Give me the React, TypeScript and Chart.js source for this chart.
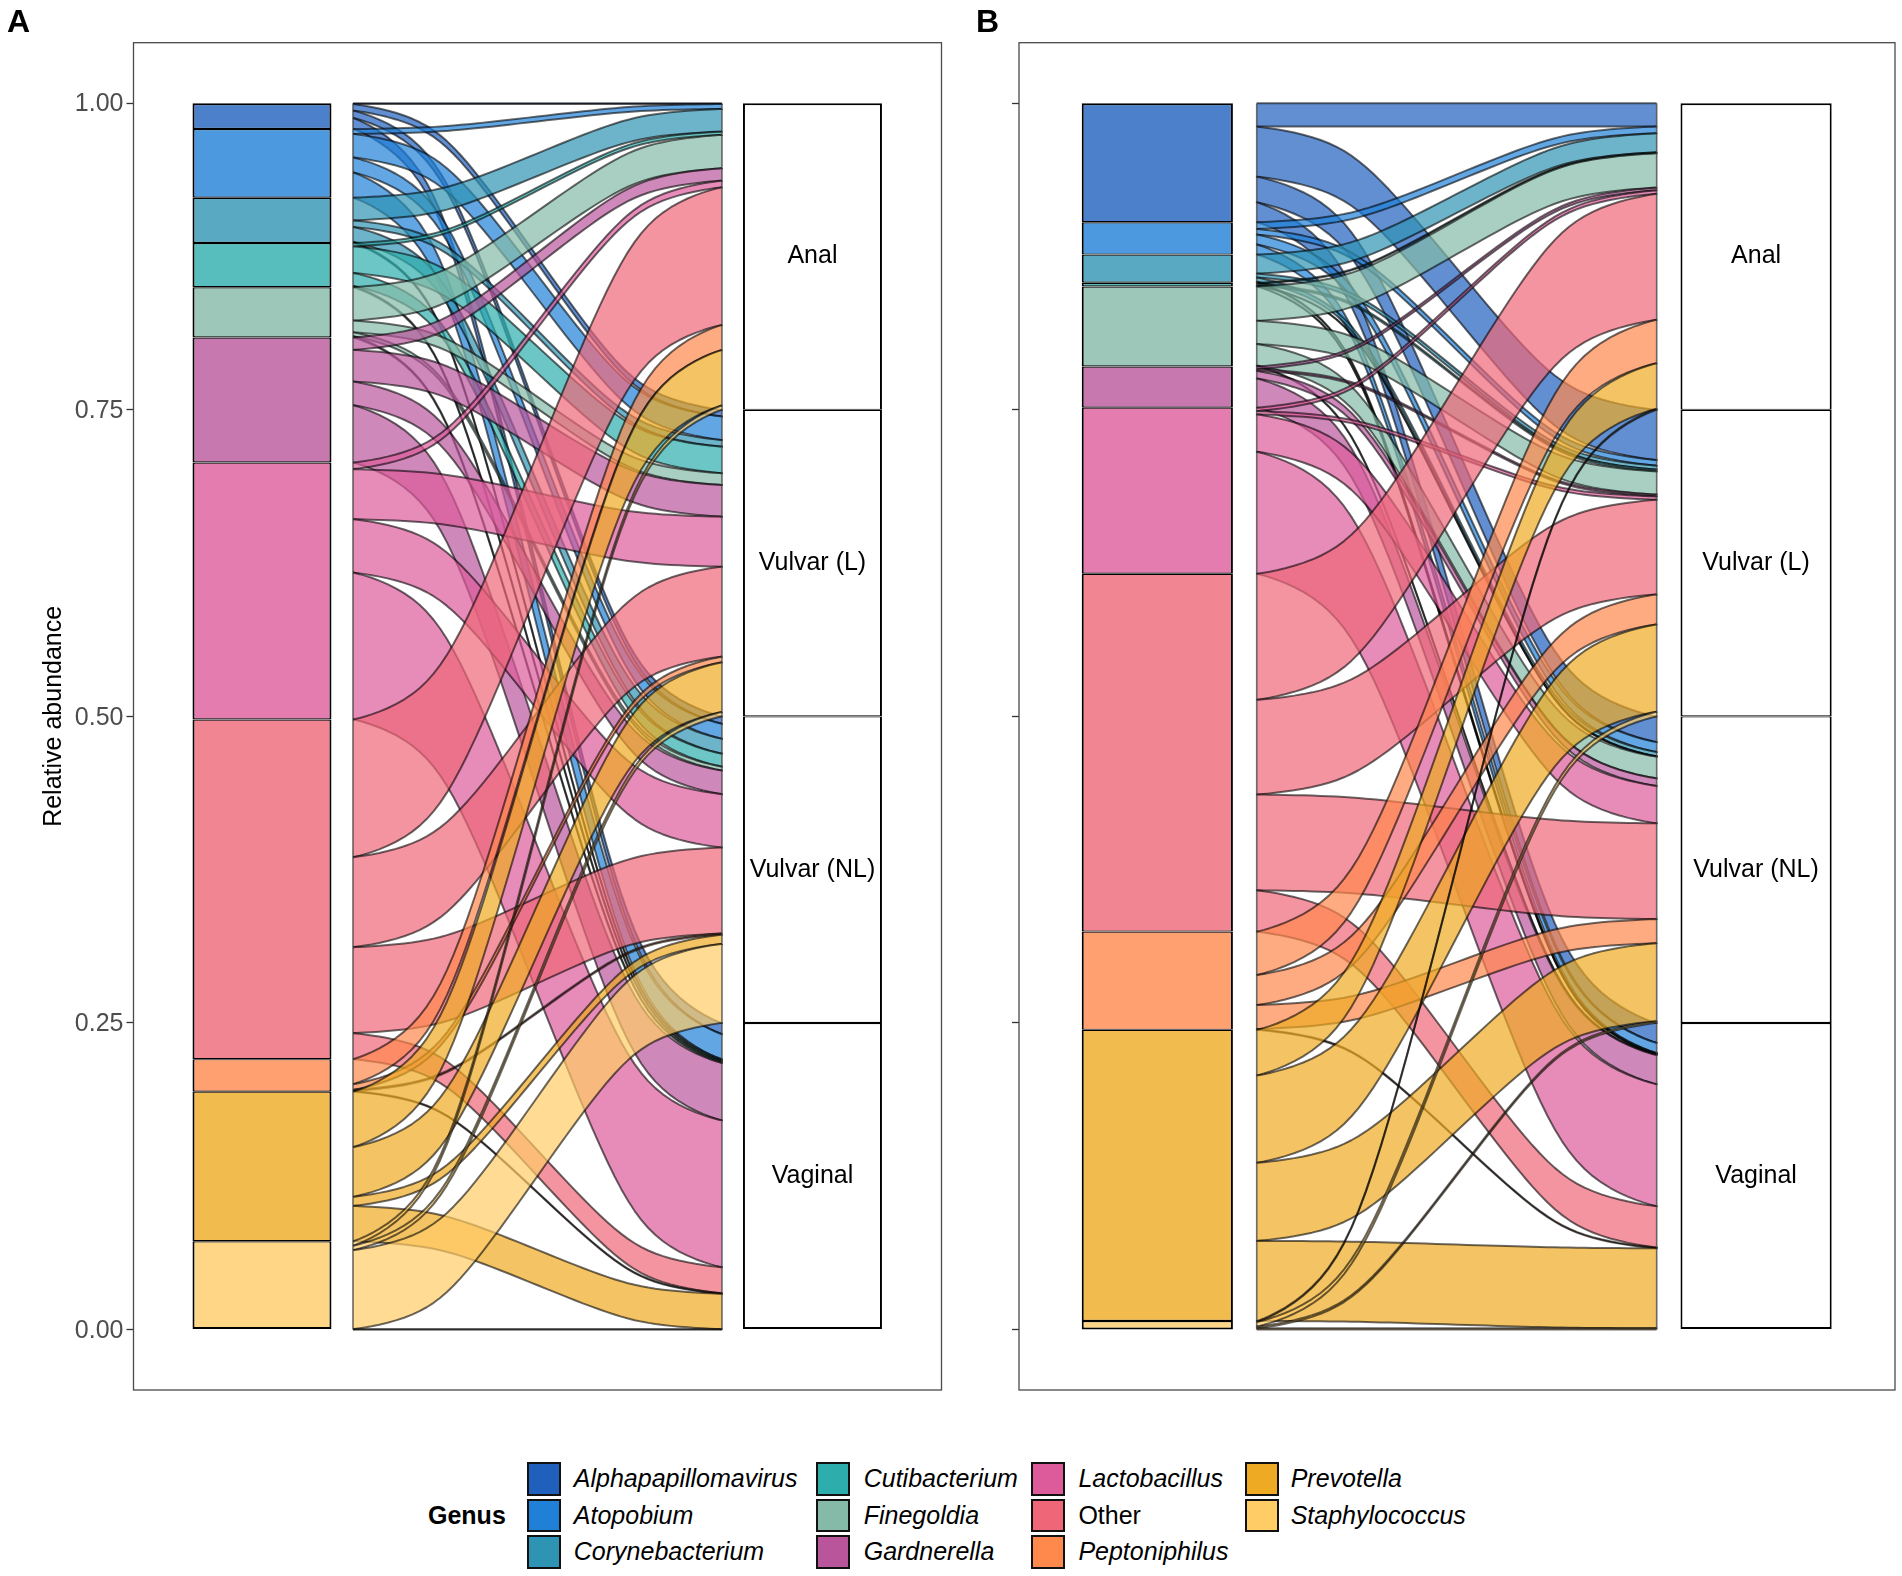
import React, { useEffect, useRef } from "react";
import { Chart, registerables } from "chart.js";

Chart.register(...registerables);

const FONT = "'Liberation Sans', Arial, sans-serif";

const genera = ["Alphapapillomavirus","Atopobium","Corynebacterium","Cutibacterium","Finegoldia","Gardnerella","Lactobacillus","Other","Peptoniphilus","Prevotella","Staphylococcus"];
const colors = ["#2060BD","#2080D8","#2F93B3","#2DAEAD","#85BAA8","#B9569B","#DD5B9B","#EE6677","#FF884D","#EEAA22","#FFCC66"];
const sites = ["Anal","Vulvar (L)","Vulvar (NL)","Vaginal"];
const yTicks = [0, 0.25, 0.5, 0.75, 1];

// Relative abundance per site: Anal, Vulvar (L), Vulvar (NL), Vaginal
const aAlpha = [0.0006,0.0054,0.006,0.009];
const aAtop = [0.004,0.0192,0.0122,0.0206];
const aCoryn = [0.0185,0.0054,0.0121,0.001];
const aCuti = [0.0027,0.0217,0.0106,0.001];
const aFine = [0.0272,0.0096,0.0032,0.001];
const aGard = [0.0101,0.0258,0.0193,0.0468];
const aLacto = [0.0054,0.0408,0.0435,0.1198];
const aOther = [0.1123,0.0734,0.0701,0.0212];
const aPept = [0.0204,0.0046,0.001,0.0005];
const aPrev = [0.0452,0.0405,0.0075,0.0288];
const aStaph = [0.0036,0.0036,0.0645,0.0003];

const bAlpha = [0.019,0.0409,0.0209,0.0162];
const bAtop = [0.0055,0.0046,0.0081,0.0082];
const bCoryn = [0.0155,0.0032,0.0035,0.0008];
const bCuti = [0.0008,0.0015,0.0003,0.0004];
const bFine = [0.028,0.0189,0.0177,0.0006];
const bGard = [0.0022,0.0015,0.0062,0.0237];
const bLacto = [0.0028,0.0027,0.0305,0.0995];
const bOther = [0.1028,0.0772,0.0781,0.0337];
const bPept = [0.0354,0.0245,0.0196,0.0006];
const bPrev = [0.0372,0.0712,0.0637,0.0653];
const bStaph = [0.0008,0.0038,0.0014,0.0009];

const panelA = [aAlpha,aAtop,aCoryn,aCuti,aFine,aGard,aLacto,aOther,aPept,aPrev,aStaph];
const panelB = [bAlpha,bAtop,bCoryn,bCuti,bFine,bGard,bLacto,bOther,bPept,bPrev,bStaph];

const KNOT = 0.25;
const BAR_SHARE = 0.2525;

function rgba(hex: string, a: number) {
  const n = parseInt(hex.slice(1), 16);
  return `rgba(${n >> 16},${(n >> 8) & 255},${n & 255},${a})`;
}

function fb(n: number, d: number) {
  const p = 2 * d * d, u = n / d, u2 = u * u;
  return u * u2 * (10 - p + (2 * p - 15) * u + (6 - p) * u2);
}

// X-spline through the four knots of an alluvium edge (shapes 0,1,1,0)
function edge(y0: number, y1: number, x0: number, x1: number) {
  const dx = x1 - x0;
  const P = [
    [x0, y0],
    [x0 + KNOT * dx, y0],
    [x1 - KNOT * dx, y1],
    [x1, y1],
  ];
  const segs: [number[], number[], number[], number[], number, number][] = [
    [P[0], P[0], P[1], P[2], 0, 1],
    [P[0], P[1], P[2], P[3], 1, 1],
    [P[1], P[2], P[3], P[3], 1, 0],
  ];
  const out: { x: number; y: number }[] = [];
  segs.forEach(([a, b, c, d, s1, s2], si) => {
    const steps = 18;
    for (let i = si === 0 ? 0 : 1; i <= steps; i++) {
      const t = i / steps;
      const A0 = t < s1 ? fb(t - s1, -1 - s1) : 0;
      const A2 = fb(t + s1, 1 + s1);
      const A1 = fb(t - 1 - s2, -1 - s2);
      const A3 = t > 1 - s2 ? fb(t - 1 + s2, 1 + s2) : 0;
      const w = A0 + A1 + A2 + A3;
      out.push({
        x: (A0 * a[0] + A1 * b[0] + A2 * c[0] + A3 * d[0]) / w,
        y: (A0 * a[1] + A1 * b[1] + A2 * c[1] + A3 * d[1]) / w,
      });
    }
  });
  return out;
}

function buildDatasets(table: number[][], x0: number, x1: number) {
  const ds: any[] = [];
  const right = sites.map((_, s) => 1 - 0.25 * s);
  let left = 1;
  let r = 0;
  table.forEach((row, g) => {
    const top = left;
    row.forEach((v, s) => {
      const c = colors[g];
      const base = {
        type: "line",
        pointRadius: 0,
        tension: 0,
        borderColor: "rgba(0,0,0,0.58)",
        borderWidth: 2,
        borderJoinStyle: "round",
      };
      ds.push({ ...base, data: edge(left, right[s], x0, x1), fill: "+1", backgroundColor: rgba(c, 0.7), order: 1000 - 2 * r });
      ds.push({ ...base, data: edge(left - v, right[s] - v, x0, x1), fill: false, order: 1000 - 2 * r - 1 });
      left -= v;
      right[s] -= v;
      r++;
    });
    ds.push({
      type: "bar",
      grouped: false,
      barPercentage: BAR_SHARE,
      categoryPercentage: 1,
      data: [{ x: 1, y: [left, top] }],
      backgroundColor: rgba(colors[g], 0.8),
      borderColor: "#000",
      borderSkipped: false,
      borderWidth: { left: 2, right: 2, top: g === 0 ? 2 : 1.2, bottom: g === table.length - 1 ? 2 : 1.2 },
      order: -2,
    });
  });
  sites.forEach((_, s) => {
    ds.push({
      type: "bar",
      grouped: false,
      barPercentage: BAR_SHARE,
      categoryPercentage: 1,
      data: [{ x: 2, y: [1 - 0.25 * (s + 1), 1 - 0.25 * s] }],
      backgroundColor: "#fff",
      borderColor: "#000",
      borderSkipped: false,
      borderWidth: { left: 2, right: 2, top: s === 0 ? 2 : 1.2, bottom: s === 3 ? 2 : 1.2 },
      order: -2,
    });
  });
  [x0, x1].forEach((x) => {
    ds.push({
      type: "line",
      pointRadius: 0,
      borderColor: "rgba(60,60,60,0.75)",
      borderWidth: 1.6,
      fill: false,
      data: [{ x, y: 0 }, { x, y: 1 }],
      order: -1,
    });
  });
  return ds;
}

const panelPlugin = {
  id: "panel",
  afterDraw(chart: any) {
    const { ctx, chartArea: a, scales } = chart;
    ctx.save();
    ctx.strokeStyle = "#4a4a4a";
    ctx.lineWidth = 1.3;
    ctx.strokeRect(a.left, a.top, a.right - a.left, a.bottom - a.top);
    ctx.fillStyle = "#000";
    ctx.font = `25px ${FONT}`;
    ctx.textAlign = "center";
    ctx.textBaseline = "middle";
    sites.forEach((s, i) => {
      ctx.fillText(s, scales.x.getPixelForValue(2), scales.y.getPixelForValue(1 - 0.25 * i - 0.125));
    });
    ctx.restore();
  },
};

function Panel({ table, left, width, axisW, padRight, labels, xMin, xMax, x0, x1 }: any) {
  const ref = useRef<HTMLCanvasElement>(null);
  useEffect(() => {
    const chart = new Chart(ref.current as any, {
      type: "line",
      data: { datasets: buildDatasets(table, x0, x1) },
      options: {
        animation: false,
        responsive: false,
        devicePixelRatio: 1,
        layout: { padding: { left: 0, right: padRight, top: 42.7, bottom: 50 } },
        plugins: { legend: { display: false }, tooltip: { enabled: false }, title: { display: false } },
        scales: {
          x: {
            type: "linear",
            min: xMin,
            max: xMax,
            offset: false,
            display: false,
            afterBuildTicks: (s: any) => { s.ticks = [{ value: 1 }, { value: 2 }]; },
          },
          y: {
            type: "linear",
            min: -0.0493,
            max: 1.0494,
            afterBuildTicks: (s: any) => { s.ticks = yTicks.map((value) => ({ value })); },
            afterFit: (s: any) => { s.width = axisW; },
            border: { display: false },
            grid: { drawOnChartArea: false, drawTicks: true, tickLength: 7, tickColor: "#333", tickWidth: 1.3 },
            ticks: {
              padding: 3,
              labelOffset: 1.2,
              autoSkip: false,
              color: "#4d4d4d",
              font: { family: FONT, size: 25 },
              callback: (v: any) => (labels ? Number(v).toFixed(2) : ""),
            },
            title: labels
              ? { display: true, text: "Relative abundance", color: "#000", font: { family: FONT, size: 25 }, padding: { top: 39.5, bottom: 0 } }
              : { display: false },
          },
        },
      } as any,
      plugins: [panelPlugin],
    } as any);
    return () => chart.destroy();
  }, []);
  return <canvas ref={ref} width={width} height={1440} style={{ position: "absolute", left, top: 0, width, height: 1440 }} />;
}

const legendCols = [
  { swatch: 526.7, text: 573.8, idx: [0, 1, 2] },
  { swatch: 816.4, text: 863.7, idx: [3, 4, 5] },
  { swatch: 1031, text: 1078.4, idx: [6, 7, 8] },
  { swatch: 1244.6, text: 1290.7, idx: [9, 10] },
];
const rowTop = [1462, 1498.5, 1535];

const abs = (o: any): any => ({ position: "absolute", fontFamily: FONT, color: "#000", whiteSpace: "nowrap", ...o });

export default function App() {
  return (
    <div style={{ position: "absolute", left: 0, top: 0, width: 1902, height: 1576, overflow: "hidden", background: "#fff" }}>
      <Panel table={panelA} left={0} width={945} axisW={133.5} padRight={3.5} labels xMin={0.7666} xMax={2.2344} x0={1.1653} x1={1.8356} />
      <Panel table={panelB} left={950} width={952} axisW={69} padRight={7} labels={false} xMin={0.769} xMax={2.232} x0={1.166} x1={1.834} />
      <div style={abs({ left: 7, top: 2, fontSize: 32, fontWeight: 700, lineHeight: "38px" })}>A</div>
      <div style={abs({ left: 976, top: 2, fontSize: 32, fontWeight: 700, lineHeight: "38px" })}>B</div>
      <div style={abs({ left: 428, top: 1499, fontSize: 25, fontWeight: 700, lineHeight: "32px" })}>Genus</div>
      {legendCols.map((c) =>
        c.idx.map((g, i) => (
          <React.Fragment key={g}>
            <div style={abs({ left: c.swatch, top: rowTop[i], width: 34, height: 33.5, boxSizing: "border-box", border: "2px solid #111", background: colors[g] })} />
            <div style={abs({ left: c.text, top: rowTop[i], fontSize: 25, lineHeight: "32px", fontStyle: genera[g] === "Other" ? "normal" : "italic" })}>{genera[g]}</div>
          </React.Fragment>
        ))
      )}
    </div>
  );
}
